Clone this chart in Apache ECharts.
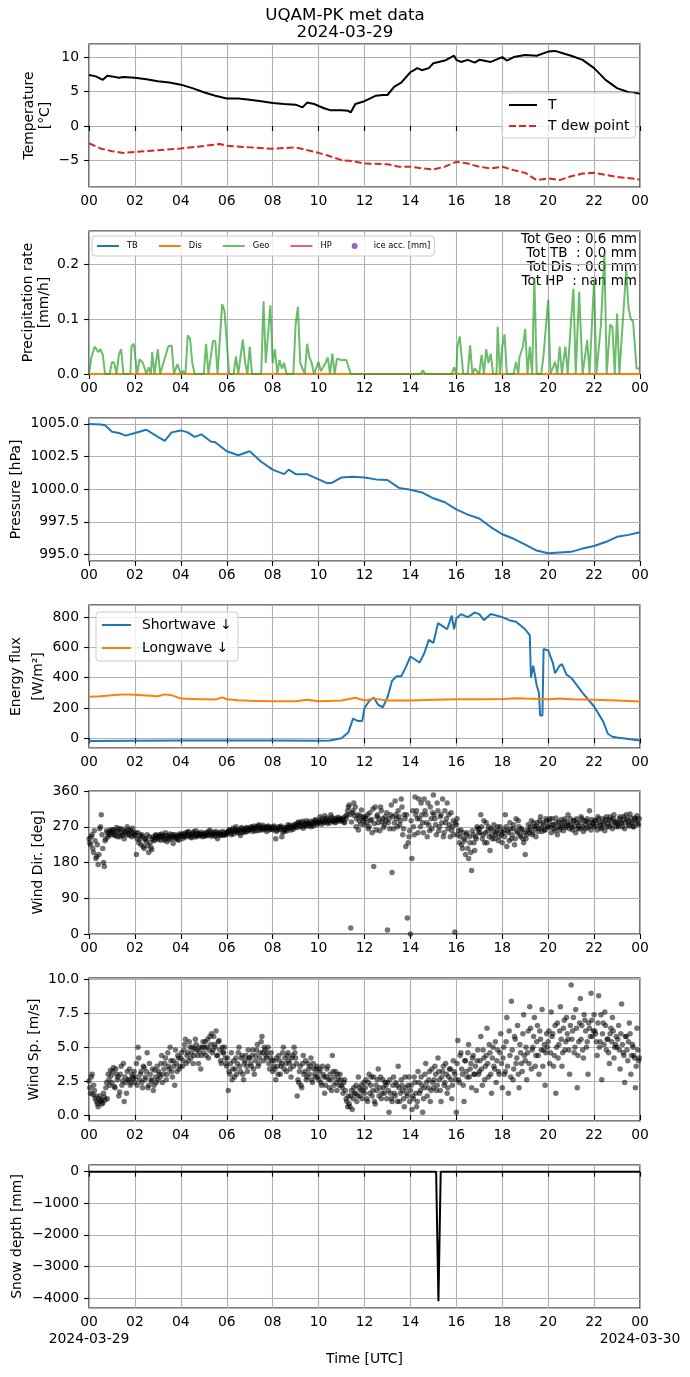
<!DOCTYPE html>
<html>
<head>
<meta charset="utf-8">
<script src="https://cdn.jsdelivr.net/npm/echarts@6/dist/echarts.min.js"></script>
<style>
  html, body { margin: 0; padding: 0; background: #fff; }
  #chart { width: 690px; height: 1377px; }
</style>
</head>
<body>
<div id="chart"></div>
<script>
// ---- data (hours UTC since 2024-03-29 00:00) ----
var tHours = [0,0.3,0.6,0.8,1,1.3,1.5,2,2.5,3,3.5,4,4.5,5,5.5,6,6.5,7,7.5,8,8.5,9,9.3,9.5,9.8,10,10.3,10.5,11,11.3,11.4,11.6,12,12.5,12.8,13,13.3,13.6,14,14.3,14.5,14.8,15,15.5,15.9,16,16.2,16.5,16.8,17,17.5,18,18.2,18.5,19,19.5,20,20.3,20.6,21,21.5,22,22.5,23,23.5,24];
var tVals = [7.4,7.2,6.7,7.3,7.2,7.0,7.1,7.0,6.8,6.5,6.3,6.0,5.5,4.9,4.4,4.0,4.0,3.8,3.6,3.35,3.2,3.1,2.7,3.4,3.2,2.9,2.5,2.3,2.3,2.2,1.95,3.2,3.6,4.4,4.5,4.5,5.7,6.3,7.8,8.4,8.1,8.4,9.1,9.5,10.2,9.6,9.3,9.6,9.2,9.6,9.3,10.0,9.5,10.0,10.3,10.2,10.8,10.9,10.6,10.2,9.6,8.4,6.7,5.5,4.9,4.7];

var tdHours = [0,0.5,1,1.5,2,3,4,5,5.7,6,7,8,9,9.5,10,10.5,11,11.5,12,13,13.5,14,14.5,15,15.5,16,16.5,17,17.5,18,18.5,19,19.5,20,20.5,21,21.5,22,22.5,23,24];
var tdVals = [-2.5,-3.25,-3.65,-3.9,-3.75,-3.5,-3.25,-2.9,-2.6,-2.85,-3.1,-3.3,-3.1,-3.5,-3.9,-4.4,-4.95,-5.1,-5.45,-5.55,-5.9,-5.9,-6.15,-6.3,-5.9,-5.2,-5.45,-5.9,-6.15,-5.9,-6.4,-6.8,-7.85,-7.6,-7.85,-7.3,-6.9,-6.8,-7.1,-7.4,-7.75];

var geoHours = [0,0.1,0.25,0.4,0.5,0.6,0.7,0.9,1.0,1.1,1.2,1.3,1.4,1.5,1.8,1.85,1.95,2.1,2.2,2.35,2.5,2.6,2.7,2.75,2.85,3.0,3.1,3.45,3.6,3.7,3.85,4.0,4.1,4.2,4.3,4.4,4.5,4.6,5.0,5.1,5.2,5.4,5.5,5.6,5.8,5.9,6.0,6.1,6.3,6.4,6.5,6.7,6.8,6.9,7.0,7.1,7.5,7.6,7.7,7.9,8.0,8.1,8.2,8.3,8.4,8.5,8.6,8.9,9.0,9.1,9.2,9.4,9.5,9.6,9.7,9.8,10.0,10.1,10.3,10.4,10.5,10.6,10.7,10.8,11.0,11.2,11.4,14.45,14.55,14.65,15.8,15.9,16.0,16.05,16.15,16.3,16.5,16.6,16.7,16.8,17.0,17.1,17.2,17.3,17.4,17.5,17.6,17.75,17.8,17.9,18.0,18.1,18.2,18.5,18.6,18.7,18.75,18.9,19.0,19.1,19.2,19.3,19.4,19.5,19.7,19.8,20.0,20.1,20.3,20.4,20.5,20.6,20.75,20.85,21.0,21.1,21.2,21.35,21.5,21.7,21.8,22.0,22.1,22.3,22.45,22.55,22.7,22.8,22.9,23.0,23.1,23.4,23.5,23.6,23.7,23.85,24];
var geoVals = [0,0.03,0.05,0.04,0.045,0.035,0,0,0.022,0.02,0,0.035,0.045,0,0,0.05,0.055,0,0.027,0.02,0,0.012,0,0.04,0,0.045,0,0.05,0.052,0,0.018,0,0.006,0,0.07,0.065,0.02,0,0,0.055,0,0.06,0.06,0,0.127,0.115,0.06,0,0,0.032,0,0.063,0.02,0,0.05,0,0,0.132,0.02,0.125,0.02,0.045,0,0.025,0.01,0.02,0,0,0.09,0.122,0.02,0,0.055,0.03,0.02,0,0.022,0.005,0.02,0.03,0,0.037,0,0.028,0.025,0.026,0,0,0.007,0,0,0.012,0,0.05,0.068,0,0,0.052,0,0.01,0,0.035,0,0.045,0.02,0.037,0,0,0.086,0,0.05,0.072,0,0,0.022,0,0.03,0.05,0.082,0,0.05,0,0.175,0,0,0.035,0.135,0,0.022,0,0.05,0,0.05,0,0.1,0.155,0,0.15,0,0.062,0,0.17,0,0.09,0.22,0,0.09,0.085,0,0.11,0,0.19,0.12,0.1,0.095,0.01,0.01];
var tbHours = [0, 24], tbVals = [0, 0];
var disHours = [0, 24], disVals = [0, 0];
var precipTotals = ['Tot Geo : 0.6 mm', 'Tot TB  : 0.0 mm', 'Tot Dis : 0.0 mm', 'Tot HP  : nan mm'];

var pHours = [0,0.5,0.7,1,1.3,1.6,2,2.5,3,3.3,3.6,4,4.3,4.6,4.9,5.3,5.5,6,6.5,7,7.5,8,8.5,8.7,9,9.5,10,10.4,10.6,11,11.5,12,12.5,13,13.5,14,14.5,15,15.5,16,16.5,17,17.5,18,18.5,19,19.5,20,20.5,21,21.5,22,22.5,23,23.5,24];
var pVals = [1005.0,1004.95,1004.9,1004.4,1004.3,1004.1,1004.3,1004.55,1004.0,1003.7,1004.35,1004.5,1004.35,1004.0,1004.2,1003.65,1003.6,1002.9,1002.6,1002.9,1002.1,1001.5,1001.15,1001.5,1001.15,1001.15,1000.75,1000.45,1000.5,1000.9,1000.95,1000.9,1000.75,1000.7,1000.1,999.95,999.75,999.3,999.0,998.45,998.05,997.75,997.1,996.55,996.2,995.75,995.3,995.1,995.15,995.2,995.45,995.65,995.95,996.35,996.5,996.7];

var swHours = [0,2,4,6,8,10,10.5,11,11.3,11.5,11.7,11.9,12,12.2,12.4,12.6,12.8,13,13.2,13.4,13.6,13.8,14,14.2,14.4,14.6,14.8,15,15.2,15.4,15.6,15.8,15.9,16,16.2,16.5,16.8,17,17.2,17.5,18,18.3,18.6,19,19.2,19.25,19.35,19.5,19.6,19.65,19.75,19.8,20,20.2,20.3,20.5,20.6,20.8,21,21.5,22,22.4,22.6,22.8,23,24];
var swVals = [-18,-16,-15,-15,-15,-16,-15,0,40,130,115,115,200,245,270,220,205,270,380,410,410,470,540,520,500,560,650,630,760,740,720,810,720,790,820,800,830,820,780,820,800,780,770,720,680,400,480,350,300,150,150,590,580,500,430,480,490,420,400,300,210,110,30,10,5,-15];
var lwHours = [0,0.5,1,1.5,2,2.5,3,3.3,3.6,4,4.5,5,5.5,5.8,6,6.5,7,8,9,9.5,10,11,11.6,12,12.4,13,14,15,16,17,18,18.6,19,20,20.5,21,22,23,24];
var lwVals = [275,278,285,290,288,283,278,290,285,262,260,258,256,270,258,252,248,244,244,255,245,250,268,250,262,250,250,255,258,258,260,265,262,258,262,258,255,250,243];

// wind samples every 2 min: "A" rows at :00,:04,..  "B" rows at :02,:06,..  one row per hour
var windStepMin = 4;
var windDirA = [
  240,225,250,205,235,195,175,265,300,215,170,240,255,250,262,
  255,262,248,268,258,245,265,250,240,258,270,252,262,245,255,
  248,200,255,238,225,245,215,240,250,205,230,212,245,238,248,
  242,250,236,248,240,255,232,246,252,240,228,250,244,238,252,
  248,240,252,255,245,258,250,242,254,248,260,246,252,250,245,
  252,248,256,250,262,246,254,250,258,240,252,256,250,248,255,
  252,258,262,250,266,258,270,255,262,248,265,260,256,268,262,
  262,270,258,272,266,260,275,268,262,270,265,258,272,268,264,
  265,272,240,262,270,268,245,262,258,268,275,266,262,272,270,
  275,268,282,272,280,266,278,285,272,276,270,282,278,288,275,
  280,295,276,284,298,282,278,288,300,284,290,280,286,294,288,
  285,292,280,290,310,325,15,305,330,320,290,262,298,312,285,
  275,290,300,270,285,255,170,320,295,280,260,310,290,275,285,
  10,290,300,155,265,335,290,310,275,340,250,300,220,40,245,
  0,190,270,345,310,255,290,330,280,340,300,245,275,320,265,
  350,290,250,310,270,300,340,255,280,330,300,245,260,285,5,
  275,250,230,262,215,240,200,255,190,230,160,250,210,240,265,
  265,300,240,285,255,230,270,210,250,262,240,255,270,245,258,
  230,262,300,220,255,280,240,265,225,290,255,270,245,262,230,
  200,250,275,262,285,255,270,245,280,265,295,258,275,262,285,
  270,290,255,275,265,292,250,282,268,278,260,290,272,300,265,
  275,262,285,255,280,270,265,290,258,276,284,268,310,262,280,
  270,285,262,290,275,268,282,260,295,278,270,288,265,300,280,
  282,270,295,278,288,265,300,285,272,292,280,270,290,298,275
];
var windDirB = [
  230,245,215,260,190,225,200,270,250,180,235,260,245,258,250,
  262,250,258,245,265,255,248,262,256,250,262,248,258,266,250,
  255,240,230,248,250,220,238,232,222,245,218,240,235,250,245,
  238,246,252,244,236,248,242,238,246,250,244,240,248,236,246,
  252,246,244,250,256,248,244,252,258,244,250,254,248,256,252,
  246,254,248,258,252,250,256,246,252,254,248,250,258,252,250,
  256,262,255,260,252,264,258,262,255,268,256,262,266,258,264,
  268,264,266,260,270,272,262,266,274,264,268,270,262,266,270,
  262,268,258,266,264,272,256,268,264,260,270,274,268,264,276,
  270,280,276,270,284,274,272,280,278,284,276,272,286,280,282,
  286,282,290,280,288,292,285,280,294,286,282,292,288,284,290,
  288,282,296,300,320,300,282,310,298,270,300,285,276,295,290,
  295,280,265,305,288,315,278,262,300,290,320,282,268,295,305,
  280,265,325,295,280,300,270,295,285,320,265,290,300,230,260,
  285,310,250,300,290,340,270,300,255,310,280,330,260,290,305,
  300,275,330,260,295,280,245,310,290,265,275,305,270,250,280,
  290,260,245,225,255,235,250,215,245,205,260,230,245,270,255,
  255,270,250,230,280,260,245,265,240,275,250,260,235,270,250,
  255,245,270,260,235,265,250,275,240,260,285,250,265,240,255,
  240,262,255,270,250,280,265,272,258,285,268,280,262,290,270,
  282,268,290,275,260,280,270,262,288,272,284,268,280,276,290,
  268,285,272,290,265,280,295,270,285,265,290,280,272,288,276,
  285,272,295,280,265,290,276,288,270,285,295,275,290,282,270,
  275,290,282,270,296,280,288,275,302,282,270,292,285,278,290
];
var windSpdA = [
  2.5,1.6,3.0,2.2,1.2,1.0,0.6,1.4,1.1,0.9,1.3,2.0,1.2,2.6,3.3,
  2.4,3.5,2.0,3.0,2.8,1.7,3.6,2.5,1.0,2.4,3.2,2.6,2.2,3.0,2.7,
  2.4,3.8,5.0,2.6,3.2,2.0,3.5,2.8,4.6,2.2,3.0,2.5,1.8,3.3,2.4,
  2.6,3.0,3.8,2.4,3.4,4.2,3.0,3.6,5.0,3.2,4.0,2.2,3.8,4.4,3.4,
  4.2,3.6,4.8,5.6,4.4,4.0,5.0,4.6,3.8,4.9,5.2,4.4,4.7,3.4,5.0,
  4.6,5.4,5.0,4.2,5.8,6.0,4.8,5.2,6.2,4.4,5.5,4.0,5.0,4.6,4.2,
  3.6,1.8,3.0,4.6,3.4,2.8,4.2,3.8,5.0,3.2,4.4,2.6,4.0,3.6,4.8,
  4.2,3.6,4.8,3.0,4.4,5.2,3.8,4.6,5.8,4.0,4.8,4.2,5.0,3.4,4.6,
  3.2,4.0,2.6,3.6,4.4,3.0,3.8,5.0,4.2,3.2,4.6,3.8,2.8,4.4,5.0,
  4.2,1.4,2.4,3.6,2.0,4.4,3.2,2.6,3.8,3.0,4.2,2.4,3.4,2.8,3.6,
  2.6,3.4,2.2,3.0,1.6,2.8,3.6,2.0,2.6,4.4,2.2,3.2,1.8,2.6,3.0,
  2.2,1.6,2.6,1.2,0.6,0.8,1.4,0.4,2.0,1.6,1.0,2.8,1.4,2.2,1.8,
  1.6,2.6,1.0,3.0,2.2,1.4,2.8,0.8,1.8,3.4,2.0,1.2,2.6,1.6,2.2,
  2.4,0.2,1.6,1.0,2.8,1.4,2.2,3.6,1.0,2.6,1.8,0.6,2.0,1.4,2.8,
  1.8,0.4,1.2,2.4,0.6,3.2,1.6,2.8,0.2,2.0,3.8,1.4,2.6,1.0,3.4,
  2.0,3.6,1.8,4.2,2.6,1.0,3.2,2.2,3.8,1.6,2.8,3.4,1.2,4.0,3.0,
  0.2,5.5,2.4,4.6,3.0,1.0,4.0,2.8,5.2,3.4,2.0,4.4,3.0,1.8,4.8,
  3.2,5.8,2.2,4.2,3.6,6.4,2.8,4.6,1.6,5.0,3.4,2.4,4.8,3.0,6.0,
  2.0,5.0,3.2,7.2,1.6,4.4,8.4,2.6,5.8,3.8,6.6,2.0,4.6,3.2,7.4,
  4.0,2.6,6.2,8.0,3.4,5.0,7.2,4.4,6.6,3.0,5.6,7.8,4.8,2.2,6.0,
  5.4,3.8,7.6,6.0,4.4,1.6,6.8,5.2,8.0,3.6,6.4,4.8,7.2,5.6,3.0,
  9.6,6.2,4.6,7.8,2.0,5.4,8.6,6.6,4.2,7.0,5.0,3.0,6.4,9.0,5.8,
  7.4,6.0,4.4,8.8,5.4,2.6,6.8,7.6,4.8,5.6,3.8,6.4,7.2,4.2,5.2,
  5.0,6.6,3.4,8.2,4.6,2.4,5.8,4.0,6.8,3.0,5.2,4.4,2.0,6.4,4.0
];
var windSpdB = [
  2.0,2.8,1.5,1.8,1.4,0.8,1.2,1.0,0.8,1.6,1.1,2.4,3.0,2.2,2.9,
  3.2,2.1,3.4,2.6,1.4,3.0,2.2,3.8,2.8,1.6,2.6,3.4,2.4,2.8,3.2,
  2.8,2.2,4.2,3.0,2.4,3.6,2.6,3.2,2.0,3.8,2.6,3.4,2.2,2.8,3.6,
  3.2,2.8,4.4,3.0,3.8,2.6,4.6,3.4,4.0,2.8,3.6,4.8,3.2,4.2,3.6,
  4.6,4.0,5.2,3.8,4.6,5.4,4.2,5.0,4.4,5.6,4.8,3.8,5.0,4.4,5.4,
  5.0,4.4,5.6,4.8,5.2,4.6,5.8,5.0,4.4,5.4,4.8,3.8,4.6,5.0,3.8,
  4.2,3.2,3.8,2.6,4.0,3.4,3.0,4.6,3.6,4.2,3.0,3.8,4.4,3.2,4.2,
  3.8,4.4,3.4,4.0,4.8,3.6,4.2,5.4,4.6,5.0,4.4,4.6,3.8,4.2,4.0,
  3.6,3.4,4.2,3.0,4.0,3.6,4.6,3.4,3.8,4.4,4.0,3.4,4.2,3.6,4.6,
  3.8,2.6,3.2,2.2,3.8,3.0,4.0,2.8,3.4,3.6,2.6,3.8,3.0,3.4,2.8,
  3.2,2.4,3.6,2.8,2.2,3.4,2.6,3.0,1.8,3.2,2.8,2.4,3.0,2.2,2.6,
  2.0,2.4,1.8,1.0,1.4,0.6,1.8,1.2,1.6,2.2,1.4,2.0,1.8,1.2,2.4,
  2.0,1.2,2.4,1.6,2.8,1.8,1.0,2.2,2.6,1.4,2.8,1.6,2.0,2.4,1.2,
  1.8,2.6,1.2,2.2,1.6,2.4,1.0,2.0,1.6,2.2,1.2,2.8,1.6,2.2,1.0,
  2.2,1.4,2.8,1.6,1.0,2.4,1.8,2.2,1.2,3.0,2.4,2.0,3.2,1.8,2.4,
  2.6,3.0,2.2,3.2,1.8,2.8,3.6,2.4,3.0,2.0,3.4,2.6,2.2,3.2,2.6,
  3.8,2.6,4.4,3.4,2.2,4.0,3.2,4.6,2.8,3.8,4.2,3.0,3.6,4.0,3.0,
  4.0,3.4,4.8,2.6,4.4,3.8,5.2,3.0,4.2,3.6,5.4,4.0,3.2,4.6,3.8,
  4.2,3.0,5.4,3.6,6.2,2.8,4.8,3.4,5.6,4.2,3.0,5.2,3.8,6.0,4.4,
  5.0,4.6,3.8,6.4,4.8,5.8,3.6,5.4,4.4,6.2,4.8,3.6,5.2,4.6,5.0,
  6.2,4.6,5.8,3.6,6.6,5.0,4.2,6.2,5.6,4.6,7.0,5.4,6.0,4.8,6.6,
  5.6,7.2,5.0,6.4,4.4,6.8,5.6,4.8,7.4,6.2,5.4,6.8,5.8,7.0,6.2,
  6.2,5.4,6.8,5.0,7.4,6.0,5.2,6.6,5.6,4.6,6.0,5.4,6.2,5.0,5.8,
  5.6,4.8,6.0,5.2,4.4,5.8,4.8,5.4,6.0,4.4,5.0,4.2,3.6,4.8,4.2
];

var snowHours = [0, 15.12, 15.22, 15.32, 24];
var snowVals = [0, 0, -4100, 0, 0];

var hourTicks = 2;
var dayHours = [0, 24];
var dayLabels = ['2024-03-29', '2024-03-30'];

// ---- layout ----
var FONT = 'DejaVu Sans';
var FS = 13.9;
var gridTops = [44, 231, 418, 605, 791, 978, 1165];
var gridH = 143, gridL = 89, gridW = 551;

function zip(h, v) {
  var out = [];
  for (var i = 0; i < h.length; i++) out.push([h[i], v[i]]);
  return out;
}
// sample i of a row set -> hour, offset in minutes for the B set
function windData(a, b) {
  var out = [];
  for (var i = 0; i < a.length; i++) {
    out.push([i * windStepMin / 60, a[i]]);
    out.push([(i * windStepMin + windStepMin / 2) / 60, b[i]]);
  }
  return out;
}
function pad2(n) { return (n < 10 ? '0' : '') + n; }
function minus(s) { return String(s).replace('-', '\u2212'); }

var grids = [], xAxes = [], yAxes = [];
// per panel: min, max, step, decimals, show min label, show max label
var yConf = [
  [-8.85, 11.9, 5, 0, false, false],
  [0, 0.26, 0.1, 1, true, false],
  [994.5, 1005.45, 2.5, 1, false, false],
  [-64, 880, 200, 0, false, false],
  [0, 360, 90, 0, true, true],
  [-0.45, 10.12, 2.5, 1, false, false],
  [-4316, 212, 1000, 0, false, false]
];

for (var i = 0; i < 7; i++) {
  grids.push({
    left: gridL, top: gridTops[i], width: gridW, height: gridH,
    show: true, borderColor: '#000', borderWidth: 1.1, backgroundColor: 'transparent'
  });
  xAxes.push({
    type: 'value', gridIndex: i, min: 0, max: 24, interval: hourTicks,
    axisLine: { show: false },
    axisTick: { show: true, length: 5, lineStyle: { color: '#000', width: 1.1 } },
    axisLabel: {
      color: '#000', fontFamily: FONT, fontSize: FS, margin: 7,
      showMinLabel: true, showMaxLabel: true,
      formatter: function (v) { return pad2(Math.round(v) % 24); }
    },
    splitLine: { show: true, lineStyle: { color: '#b0b0b0', width: 1.1 } }
  });
  var c = yConf[i];
  yAxes.push({
    type: 'value', gridIndex: i, min: c[0], max: c[1],
    minInterval: c[2], maxInterval: c[2],
    axisLine: { show: false },
    axisTick: { show: true, length: 5, lineStyle: { color: '#000', width: 1.1 } },
    axisLabel: {
      color: '#000', fontFamily: FONT, fontSize: FS, margin: 10,
      showMinLabel: c[4], showMaxLabel: c[5],
      formatter: (function (d) {
        return function (v) { return minus(v.toFixed(d)); };
      })(c[3])
    },
    splitLine: { show: true, lineStyle: { color: '#b0b0b0', width: 1.1 } }
  });
}

function lineSeries(name, idx, data, color, extra) {
  var s = {
    name: name, type: 'line', xAxisIndex: idx, yAxisIndex: idx,
    data: data, symbol: 'none', animation: false,
    lineStyle: { color: color, width: 2 }, itemStyle: { color: color }
  };
  if (extra) for (var k in extra) s.lineStyle[k] = extra[k];
  return s;
}
function scatterSeries(name, idx, data) {
  return {
    name: name, type: 'scatter', xAxisIndex: idx, yAxisIndex: idx,
    data: data, symbolSize: 5.5, animation: false,
    itemStyle: { color: '#000', opacity: 0.55 }
  };
}

var series = [
  lineSeries('T', 0, zip(tHours, tVals), '#000'),
  lineSeries('T dew point', 0, zip(tdHours, tdVals), '#d62728', { type: [7, 3] }),
  lineSeries('TB', 1, zip(tbHours, tbVals), '#1f77b4'),
  lineSeries('Dis', 1, zip(disHours, disVals), '#ff7f0e'),
  lineSeries('Geo', 1, zip(geoHours, geoVals), '#2ca02c', { opacity: 0.7 }),
  lineSeries('HP', 1, [], '#d62728', { opacity: 0.7 }),
  {
    name: 'ice acc. [mm]', type: 'scatter', xAxisIndex: 1, yAxisIndex: 1, data: [],
    symbolSize: 5, itemStyle: { color: '#9467bd' }, animation: false
  },
  lineSeries('Pressure', 2, zip(pHours, pVals), '#1f77b4'),
  lineSeries('Shortwave \u2193', 3, zip(swHours, swVals), '#1f77b4'),
  lineSeries('Longwave \u2193', 3, zip(lwHours, lwVals), '#ff7f0e'),
  scatterSeries('Wind Dir', 4, windData(windDirA, windDirB)),
  scatterSeries('Wind Sp', 5, windData(windSpdA, windSpdB)),
  lineSeries('Snow depth', 6, zip(snowHours, snowVals), '#000')
];

// line legends: hide the marker ECharts draws in the middle of the handle
var legendBase = {
  borderColor: '#cccccc', borderWidth: 1, borderRadius: 3,
  backgroundColor: 'rgba(255,255,255,0.8)', selectedMode: false,
  itemStyle: { opacity: 0 }
};
function legend(opts) {
  var o = {};
  for (var k in legendBase) o[k] = legendBase[k];
  for (var j in opts) o[j] = opts[j];
  return o;
}
var legends = [
  legend({
    data: ['T', 'T dew point'], left: 502, top: 93, orient: 'vertical',
    itemWidth: 28, itemHeight: 14, itemGap: 7, padding: [5, 6, 5, 6],
    textStyle: { color: '#000', fontFamily: FONT, fontSize: FS, padding: [0, 0, 0, 6] }
  }),
  legend({
    data: ['TB', 'Dis', 'Geo', 'HP', { name: 'ice acc. [mm]', icon: 'circle', itemStyle: { opacity: 1 } }],
    left: 92, top: 236, orient: 'horizontal',
    itemWidth: 22, itemHeight: 6, itemGap: 20, padding: [6, 4, 6, 4],
    textStyle: { color: '#000', fontFamily: FONT, fontSize: 8.3, padding: [0, 0, 0, 3] }
  }),
  legend({
    data: ['Shortwave \u2193', 'Longwave \u2193'], left: 96, top: 612, orient: 'vertical',
    itemWidth: 29, itemHeight: 14, itemGap: 9, padding: [6, 6, 6, 5],
    textStyle: { color: '#000', fontFamily: FONT, fontSize: FS, padding: [0, 0, 0, 6] }
  })
];

function vtext(txt, x, y) {
  return {
    type: 'text', x: x, y: y, rotation: Math.PI / 2, silent: true,
    style: { text: txt, fill: '#000', font: FS + 'px "' + FONT + '"', align: 'center', verticalAlign: 'middle' }
  };
}
function htext(txt, x, y, size, align) {
  return {
    type: 'text', x: x, y: y, silent: true,
    style: { text: txt, fill: '#000', font: size + 'px "' + FONT + '"', align: align || 'center', verticalAlign: 'middle' }
  };
}
function mid(i) { return gridTops[i] + gridH / 2; }

var graphics = [
  htext('UQAM-PK met data', 345, 16, 16.7),
  htext('2024-03-29', 345, 33, 16.7),
  vtext('Temperature', 29, mid(0)),
  vtext('[\u00b0C]', 45, mid(0)),
  vtext('Precipitation rate', 28, mid(1)),
  vtext('[mm/h]', 44, mid(1)),
  vtext('Pressure [hPa]', 16, mid(2)),
  vtext('Energy flux', 16, mid(3)),
  vtext('[W/m\u00b2]', 38, mid(3)),
  vtext('Wind Dir. [deg]', 38.5, mid(4)),
  vtext('Wind Sp. [m/s]', 34.5, mid(5)),
  vtext('Snow depth [mm]', 17.5, mid(6)),
  htext('Time [UTC]', gridL + gridW / 2, 1359, FS)
];
for (var t = 0; t < precipTotals.length; t++) {
  graphics.push(htext(precipTotals[t], 637, 239 + t * 14, 13.5, 'right'));
}

var chart = echarts.init(document.getElementById('chart'), null, { renderer: 'canvas' });
chart.setOption({
  animation: false,
  backgroundColor: '#fff',
  textStyle: { fontFamily: FONT },
  grid: grids,
  xAxis: xAxes,
  yAxis: yAxes,
  legend: legends,
  series: series,
  graphic: graphics
});

// second line of the bottom tick labels: the dates under the day boundaries
for (var d = 0; d < dayHours.length; d++) {
  var px = chart.convertToPixel({ xAxisIndex: 6 }, dayHours[d]);
  graphics.push(htext(dayLabels[d], px, 1339, FS));
}
chart.setOption({ graphic: graphics });
</script>
</body>
</html>
